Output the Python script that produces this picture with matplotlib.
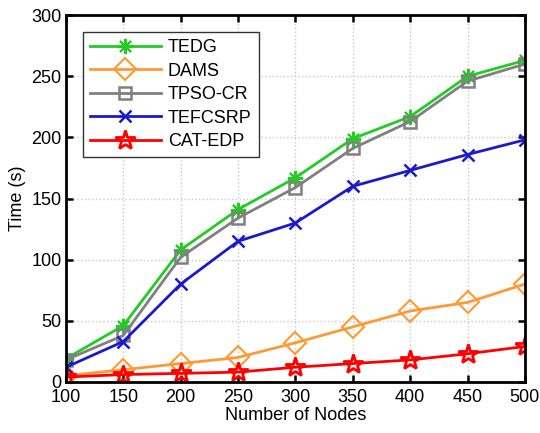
import matplotlib
matplotlib.use("Agg")
from matplotlib import pyplot as plt

nodes = [100, 150, 200, 250, 300, 350, 400, 450, 500]
tedg = [19, 46, 108, 141, 167, 199, 217, 250, 263]
dams = [5, 10, 15, 20, 32, 45, 58, 65, 80]
tpso_cr = [18, 38, 102, 134, 159, 191, 213, 246, 260]
tefcsrp = [12, 33, 80, 115, 130, 160, 173, 186, 198]
cat_edp = [4, 6, 7, 8, 12, 15, 18, 23, 29]

plt.rcParams['font.family'] = ['Liberation Sans', 'DejaVu Sans']
plt.rcParams['font.size'] = 13

fig = plt.figure(figsize=(5.4, 4.33), dpi=100)
ax = fig.add_axes([0.122, 0.118, 0.850, 0.847])

ax.plot(nodes, tedg, color="#22cc22", lw=2, marker=(8, 2, 0), ms=11, mew=1.5, label="TEDG")
ax.plot(nodes, dams, color="#ff9933", lw=2, marker="D", ms=11, mfc="none", mew=1.5, label="DAMS")
ax.plot(nodes, tpso_cr, color="#808080", lw=2, marker="s", ms=9, mfc="none", mew=1.8, label="TPSO-CR")
ax.plot(nodes, tefcsrp, color="#1a1acc", lw=2, marker="x", ms=9, mew=1.8, label="TEFCSRP")
ax.plot(nodes, cat_edp, color="#ff0000", lw=2, marker="*", ms=15, mfc="none", mew=2, label="CAT-EDP")

ax.set_xlim(100, 500)
ax.set_ylim(0, 300)
ax.set_xticks(nodes)
ax.set_yticks(range(0, 301, 50))
ax.grid(True, ls=":", color="#c8c8c8", lw=1)
ax.tick_params(direction="in", top=True, right=True, width=1.8, length=5, labelsize=13)
ax.tick_params(axis="x", pad=5)
ax.tick_params(axis="y", pad=3)
for s in ax.spines.values():
    s.set_linewidth(2)
ax.set_xlabel("Number of Nodes", fontsize=13, labelpad=1)
ax.set_ylabel("Time (s)", fontsize=13, labelpad=4)

leg = ax.legend(loc="upper left", bbox_to_anchor=(0.037, 0.954), borderaxespad=0, fontsize=13,
                fancybox=False, edgecolor="#333333", framealpha=1, handlelength=3.9,
                labelspacing=0.36, handletextpad=0.4, borderpad=0.4)
leg.get_frame().set_linewidth(1)

fig.savefig("out.png", dpi=100)
